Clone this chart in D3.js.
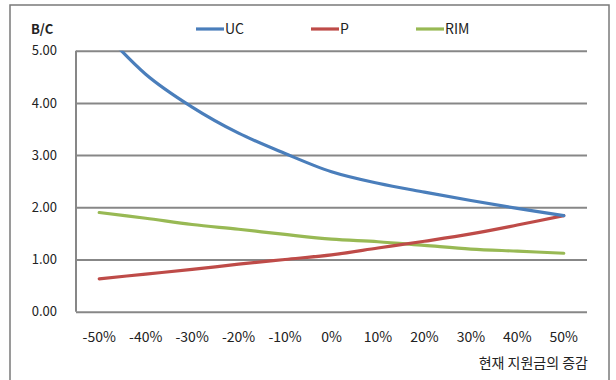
<!DOCTYPE html>
<html>
<head>
<meta charset="utf-8">
<script src="https://cdn.jsdelivr.net/npm/d3@7"></script>
<style>
  html, body { margin: 0; padding: 0; background: #fff; }
  svg { display: block; }
  text { font-family: "Noto Sans CJK KR", "Noto Sans", sans-serif; fill: #222; }
</style>
</head>
<body>
<svg id="chart" width="616" height="380"></svg>
<script>
// Change in current subsidy (x categories)
const categories = ["-50%", "-40%", "-30%", "-20%", "-10%", "0%", "10%", "20%", "30%", "40%", "50%"];
// B/C ratio per method
const ucValues  = [5.45, 4.55, 3.92, 3.42, 3.03, 2.68, 2.46, 2.29, 2.13, 1.98, 1.84];
const pValues   = [0.63, 0.72, 0.81, 0.91, 1.00, 1.09, 1.22, 1.35, 1.49, 1.66, 1.84];
const rimValues = [1.90, 1.79, 1.67, 1.58, 1.48, 1.39, 1.34, 1.27, 1.20, 1.16, 1.12];
const yTicks = [0, 1, 2, 3, 4, 5];
const seriesNames = ["UC", "P", "RIM"];
const seriesColors = ["#4a7ebb", "#be4b48", "#98b954"];

const series = [ucValues, pValues, rimValues].map((values, i) => ({
  name: seriesNames[i], color: seriesColors[i], values
}));

const svg = d3.select("#chart");
const plot = { left: 76, right: 587, top: 50.7, bottom: 311.7 };

// outer frame
svg.append("rect")
  .attr("x", 10).attr("y", 5).attr("width", 599).attr("height", 390)
  .attr("fill", "#fff").attr("stroke", "#7a7a7a").attr("stroke-width", 1.5);

const x = d3.scaleBand().domain(categories).range([plot.left, plot.right]);
const y = d3.scaleLinear().domain([0, 5]).range([plot.bottom, plot.top]);

// horizontal gridlines + y tick labels
const yAxis = d3.axisLeft(y).tickValues(yTicks).tickFormat(d3.format(".2f"))
  .tickSize(-(plot.right - plot.left)).tickPadding(19);
const gy = svg.append("g").attr("transform", `translate(${plot.left},0)`).call(yAxis);
gy.select(".domain").remove();
gy.selectAll(".tick line").attr("stroke", "#878787").attr("stroke-width", 2);
gy.selectAll(".tick text").attr("font-size", 13).attr("fill", "#222")
  .attr("font-family", "'Noto Sans CJK KR', sans-serif");

// vertical axis line
svg.append("line")
  .attr("x1", plot.left).attr("x2", plot.left)
  .attr("y1", y(5)).attr("y2", plot.bottom)
  .attr("stroke", "#878787").attr("stroke-width", 2);

// x axis labels
const xAxis = d3.axisBottom(x).tickSize(0).tickPadding(20);
const gx = svg.append("g").attr("transform", `translate(0,${plot.bottom})`).call(xAxis);
gx.select(".domain").remove();
gx.selectAll(".tick text").attr("font-size", 14).attr("fill", "#222")
  .attr("font-family", "'Noto Sans CJK KR', sans-serif");

// axis titles
svg.append("text").attr("x", 31).attr("y", 34)
  .attr("font-size", 13).attr("font-weight", "bold").text("B/C");
svg.append("text").attr("x", 588).attr("y", 368).attr("text-anchor", "end")
  .attr("font-size", 14).text("현재 지원금의 증감");

// clip lines to plot area
svg.append("clipPath").attr("id", "plotClip").append("rect")
  .attr("x", plot.left).attr("y", plot.top)
  .attr("width", plot.right - plot.left).attr("height", plot.bottom - plot.top);

const line = d3.line()
  .x((d, i) => x(categories[i]) + x.bandwidth() / 2)
  .y(d => y(d))
  .curve(d3.curveCardinal.tension(0));

svg.append("g").attr("clip-path", "url(#plotClip)")
  .selectAll("path").data(series.slice().reverse()).join("path")
  .attr("d", d => line(d.values))
  .attr("fill", "none")
  .attr("stroke", d => d.color)
  .attr("stroke-width", 3.2)
  .attr("stroke-linecap", "round")
  .attr("stroke-linejoin", "round");

// legend
const legendX = [196, 311, 416];
const lg = svg.append("g").selectAll("g").data(series).join("g")
  .attr("transform", (d, i) => `translate(${legendX[i]},29)`);
lg.append("line").attr("x1", 0).attr("x2", 28).attr("y1", 0).attr("y2", 0)
  .attr("stroke", d => d.color).attr("stroke-width", 3.2);
lg.append("text").attr("x", 29).attr("y", 5).attr("font-size", 14).text(d => d.name);
</script>
</body>
</html>
